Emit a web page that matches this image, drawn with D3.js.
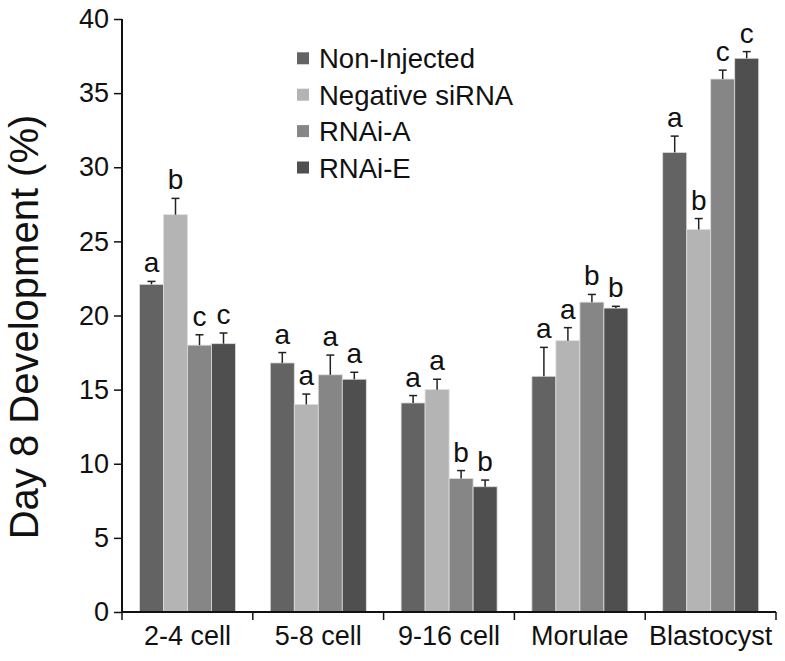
<!DOCTYPE html>
<html><head><meta charset="utf-8">
<script src="https://cdn.jsdelivr.net/npm/d3@7"></script>
<style>body{margin:0;background:#fff}text{font-family:"Liberation Sans",Arial,sans-serif}</style>
</head><body>
<svg id="c" width="785" height="661"></svg>
<script>
const categories = ["2-4 cell","5-8 cell","9-16 cell","Morulae","Blastocyst"];
const seriesNames = ["Non-Injected","Negative siRNA","RNAi-A","RNAi-E"];
const seriesColors = ["#636363","#b4b4b4","#868686","#4f4f4f"];
const nonInjected = [22.1, 16.8, 14.1, 15.9, 31.0];
const negativeSiRNA = [26.8, 14.0, 15.0, 18.3, 25.8];
const rnaiA = [18.0, 16.0, 9.0, 20.9, 35.95];
const rnaiE = [18.1, 15.7, 8.45, 20.5, 37.35];
const errNonInjected = [0.2, 0.7, 0.5, 1.95, 1.1];
const errNegative = [1.1, 0.7, 0.7, 0.88, 0.74];
const errRnaiA = [0.7, 1.33, 0.54, 0.52, 0.6];
const errRnaiE = [0.72, 0.47, 0.45, 0.12, 0.45];
const lettersNonInjected = ["a","a","a","a","a"];
const lettersNegative = ["b","a","a","a","b"];
const lettersRnaiA = ["c","a","b","b","c"];
const lettersRnaiE = ["c","a","b","b","c"];
const yTicks = [0,5,10,15,20,25,30,35,40];
const yLabel = "Day 8 Development (%)";

const values = [nonInjected, negativeSiRNA, rnaiA, rnaiE];
const errs = [errNonInjected, errNegative, errRnaiA, errRnaiE];
const letters = [lettersNonInjected, lettersNegative, lettersRnaiA, lettersRnaiE];

const svg = d3.select("#c");
const x = d3.scaleBand().domain(categories).range([122, 776]).paddingInner(0).paddingOuter(0);
const xs = d3.scaleBand().domain(seriesNames).range([17.5, 113.5]);
const y = d3.scaleLinear().domain([0, 40]).range([612, 19]);

const rows = [];
categories.forEach((c, i) => {
  seriesNames.forEach((s, j) => {
    rows.push({c, s, j, v: values[j][i], e: errs[j][i], l: letters[j][i]});
  });
});

const g = svg.append("g");
g.selectAll("rect.bar").data(rows).join("rect")
  .attr("x", d => x(d.c) + xs(d.s))
  .attr("y", d => y(d.v))
  .attr("width", xs.bandwidth())
  .attr("height", d => y(0) - y(d.v))
  .attr("fill", d => seriesColors[d.j])
  .attr("stroke", "#dcdcdc").attr("stroke-width", 0.8);

// error bars
g.selectAll("line.err").data(rows).join("line")
  .attr("x1", d => x(d.c) + xs(d.s) + xs.bandwidth()/2)
  .attr("x2", d => x(d.c) + xs(d.s) + xs.bandwidth()/2)
  .attr("y1", d => y(d.v)).attr("y2", d => y(d.v + d.e))
  .attr("stroke", "#222").attr("stroke-width", 1.5);
g.selectAll("line.cap").data(rows).join("line")
  .attr("x1", d => x(d.c) + xs(d.s) + xs.bandwidth()/2 - 4)
  .attr("x2", d => x(d.c) + xs(d.s) + xs.bandwidth()/2 + 4)
  .attr("y1", d => y(d.v + d.e)).attr("y2", d => y(d.v + d.e))
  .attr("stroke", "#222").attr("stroke-width", 1.5);
g.selectAll("text.let").data(rows).join("text")
  .attr("x", d => x(d.c) + xs(d.s) + xs.bandwidth()/2)
  .attr("y", d => y(d.v + d.e) - 9)
  .attr("text-anchor", "middle")
  .attr("font-size", 28)
  .attr("fill", "#111")
  .text(d => d.l);

// axes
const yAxis = svg.append("g").attr("transform", "translate(122,0)")
  .call(d3.axisLeft(y).tickValues(yTicks).tickSize(8).tickPadding(5));
yAxis.select(".domain").attr("stroke", "#111").attr("stroke-width", 2).attr("d", "M0,19V612");
yAxis.selectAll(".tick line").attr("stroke", "#111").attr("stroke-width", 1.5);
yAxis.selectAll(".tick text").attr("font-size", 27).attr("fill", "#111").attr("font-family", "Liberation Sans, Arial, sans-serif");

const xAxis = svg.append("g").attr("transform", "translate(0,612)")
  .call(d3.axisBottom(x).tickSize(0).tickPadding(14));
xAxis.select(".domain").attr("stroke", "#111").attr("stroke-width", 2).attr("d", "M122,0H776");
xAxis.selectAll(".tick text").attr("font-size", 27).attr("fill", "#111").attr("font-family", "Liberation Sans, Arial, sans-serif");
const boundaries = categories.map(c => x(c)).concat([x.range()[1]]);
xAxis.selectAll("line.bt").data(boundaries).join("line")
  .attr("x1", d => d).attr("x2", d => d).attr("y1", 0).attr("y2", 8)
  .attr("stroke", "#111").attr("stroke-width", 1.5);

// y label
svg.append("text")
  .attr("transform", "translate(38,327) rotate(-90)")
  .attr("text-anchor", "middle")
  .attr("font-size", 40)
  .attr("fill", "#111")
  .text(yLabel);

// legend
const lg = svg.append("g").attr("transform", "translate(297,0)");
seriesNames.forEach((s, i) => {
  const cy = 58.3 + i * 36.4;
  lg.append("rect").attr("x", 0).attr("y", cy - 6).attr("width", 12).attr("height", 12).attr("fill", seriesColors[i]);
  lg.append("text").attr("x", 22).attr("y", cy + 10).attr("font-size", 27.5).attr("fill", "#111").text(s);
});
</script>
</body></html>
